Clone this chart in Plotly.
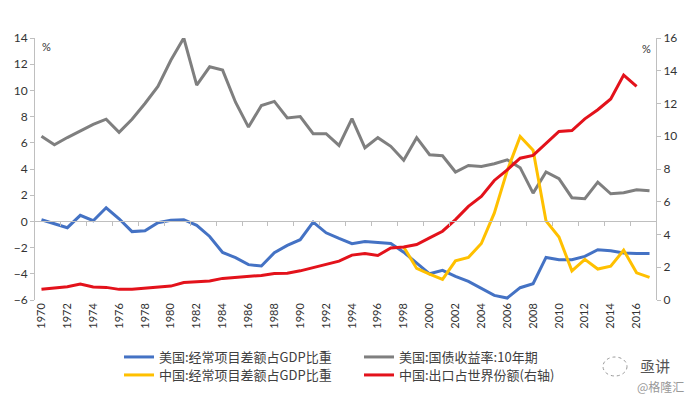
import plotly.graph_objects as go

years = list(range(1970, 2018))

us_ca = [0.13, -0.18, -0.48, 0.46, 0.05, 1.04, 0.2, -0.78, -0.72, -0.1,
         0.08, 0.13, -0.3, -1.15, -2.37, -2.77, -3.3, -3.4, -2.39, -1.83,
         -1.4, -0.05, -0.87, -1.3, -1.7, -1.53, -1.58, -1.68, -2.35, -3.2,
         -4.0, -3.74, -4.2, -4.58, -5.14, -5.65, -5.85, -5.06, -4.76, -2.75,
         -2.92, -2.92, -2.67, -2.16, -2.24, -2.42, -2.45, -2.45]

us_yield = [6.5, 5.85, 6.4, 6.9, 7.4, 7.8, 6.8, 7.8, 9.0, 10.3,
            12.3, 14.0, 10.4, 11.8, 11.55, 9.1, 7.2, 8.85, 9.16, 7.9,
            8.0, 6.7, 6.7, 5.8, 7.84, 5.62, 6.39, 5.73, 4.66, 6.39,
            5.09, 5.01, 3.77, 4.27, 4.2, 4.4, 4.7, 4.1, 2.16, 3.77,
            3.26, 1.81, 1.73, 3.0, 2.11, 2.19, 2.42, 2.34]

china_ca_years = list(range(1998, 2018))
china_ca = [3.24, 1.93, 1.58, 1.26, 2.39, 2.6, 3.45, 5.3, 7.9, 9.98,
            9.15, 4.83, 3.85, 1.78, 2.48, 1.89, 2.07, 3.04, 1.66, 1.38]

china_exp_years = list(range(1970, 2017))
china_exp = [0.65, 0.75, 0.81, 0.97, 0.79, 0.77, 0.65, 0.65, 0.71, 0.77,
             0.85, 1.07, 1.11, 1.16, 1.32, 1.38, 1.4, 1.5, 1.62, 1.64,
             1.78, 1.99, 2.17, 2.37, 2.74, 2.84, 2.72, 3.18, 3.24, 3.39,
             3.79, 4.2, 4.91, 5.72, 6.33, 7.3, 7.95, 8.66, 8.83, 9.53,
             10.29, 10.35, 11.06, 11.62, 12.28, 13.74, 13.04]

names = ["美国:经常项目差额占GDP比重", "美国:国债收益率:10年期",
         "中国:经常项目差额占GDP比重", "中国:出口占世界份额(右轴)"]

BLUE = "#4472C4"
GRAY = "#7F7F7F"
YELLOW = "#FFC000"
RED = "#E3121B"
AXIS = "#BFBFBF"
TXT = "#333333"
LEG = "#404040"
FONT = "Lato"
CJK = "Noto Sans CJK SC"

# plot-area geometry in pixels (used only to place legend / watermark)
L, R, T, B = 35, 656, 38, 300
PW, PH = R - L, B - T


def px(x):
    return (x - L) / PW


def py(y):
    return (B - y) / PH


fig = go.Figure()
fig.add_trace(go.Scatter(x=years, y=us_ca, name=names[0], mode="lines",
                         line=dict(color=BLUE, width=3), legend="legend"))
fig.add_trace(go.Scatter(x=years, y=us_yield, name=names[1], mode="lines",
                         line=dict(color=GRAY, width=3), legend="legend"))
fig.add_trace(go.Scatter(x=china_ca_years, y=china_ca, name=names[2], mode="lines",
                         line=dict(color=YELLOW, width=3), yaxis="y2", legend="legend2"))
fig.add_trace(go.Scatter(x=china_exp_years, y=china_exp, name=names[3], mode="lines",
                         line=dict(color=RED, width=3), yaxis="y2", legend="legend2"))
# carrier for the zero-line category axis
fig.add_trace(go.Scatter(x=[None], y=[None], xaxis="x2", showlegend=False, hoverinfo="skip"))

tick_bounds = [y + 1.5 for y in range(1970, 2017, 2)]

fig.update_layout(
    width=694, height=397,
    margin=dict(l=L, r=694 - R, t=T, b=397 - B, autoexpand=False),
    paper_bgcolor="white", plot_bgcolor="white",
    font=dict(family=FONT, size=11, color=TXT),
    xaxis=dict(range=[1969.5, 2017.5], tickmode="array",
               tickvals=list(range(1970, 2017, 2)),
               ticktext=[str(y) for y in range(1970, 2017, 2)],
               tickangle=-90, showgrid=False, showline=False, zeroline=False,
               ticks="", automargin=False,
               tickfont=dict(family=FONT, size=11, color=TXT)),
    xaxis2=dict(range=[1969.5, 2017.5], overlaying="x", anchor="free", position=0.3,
                side="bottom", showline=True, linecolor=AXIS, linewidth=1,
                tickmode="array", tickvals=tick_bounds, ticks="outside",
                ticklen=4, tickcolor=AXIS, showticklabels=False,
                showgrid=False, zeroline=False, automargin=False),
    yaxis=dict(range=[-6, 14], dtick=2, showgrid=False, zeroline=False,
               showline=True, linecolor=AXIS, linewidth=1, ticks="outside",
               ticklen=4, tickcolor=AXIS, automargin=False,
               tickfont=dict(family=FONT, size=12, color=TXT)),
    yaxis2=dict(range=[0, 16], dtick=2, overlaying="y", side="right",
                showgrid=False, zeroline=False, showline=True, linecolor=AXIS,
                linewidth=1, ticks="outside", ticklen=4, tickcolor=AXIS,
                automargin=False,
                tickfont=dict(family=FONT, size=12, color=TXT)),
    legend=dict(orientation="h", x=px(119), xanchor="left", y=py(342), yanchor="top",
                entrywidth=195, entrywidthmode="pixels",
                font=dict(family=CJK, size=13, color=LEG), bgcolor="rgba(0,0,0,0)"),
    legend2=dict(orientation="h", x=px(119), xanchor="left", y=py(360), yanchor="top",
                 entrywidth=195, entrywidthmode="pixels",
                 font=dict(family=CJK, size=13, color=LEG), bgcolor="rgba(0,0,0,0)"),
    showlegend=True,
)

fig.add_annotation(text="%", xref="paper", yref="paper", x=px(40), y=py(38),
                   xanchor="left", yanchor="top", showarrow=False,
                   font=dict(family=FONT, size=11, color=TXT))
fig.add_annotation(text="%", xref="paper", yref="paper", x=px(646), y=py(40),
                   xanchor="center", yanchor="top", showarrow=False,
                   font=dict(family=FONT, size=11, color=TXT))

# watermark
fig.add_shape(type="circle", xref="paper", yref="paper",
              x0=px(603), x1=px(627), y0=py(376), y1=py(357),
              line=dict(color="#999999", width=1, dash="dot"))
fig.add_annotation(text="亟讲", xref="paper", yref="paper",
                   x=px(655), y=py(365), xanchor="center", yanchor="middle",
                   showarrow=False,
                   font=dict(family=CJK, size=15, color="#555555"))
fig.add_annotation(text="@格隆汇", xref="paper", yref="paper",
                   x=px(660), y=py(386), xanchor="center", yanchor="middle",
                   showarrow=False,
                   font=dict(family=CJK, size=12, color="#999999"))

fig.write_html("out.html", config={"displayModeBar": False},
               post_script="document.body.style.margin='0';document.body.style.overflow='hidden';")
